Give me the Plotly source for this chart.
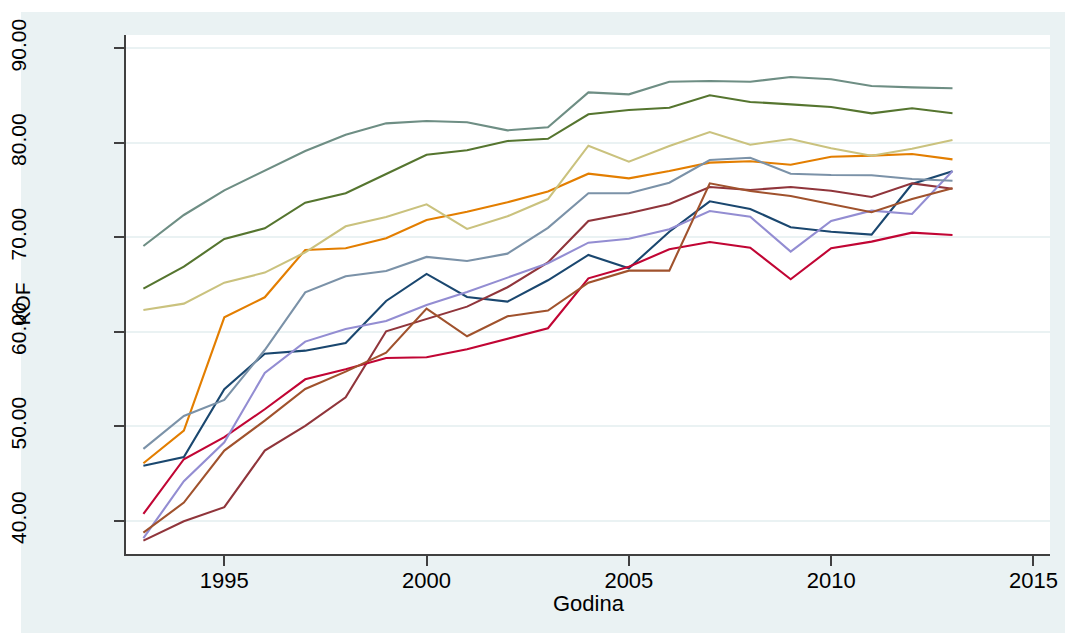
import plotly.graph_objects as go

years = list(range(1993, 2014))

teal = [69.08, 72.36, 74.97, 77.02, 79.13, 80.86, 82.06, 82.31, 82.17, 81.32, 81.64,
        85.34, 85.13, 86.47, 86.54, 86.47, 86.96, 86.72, 86.01, 85.87, 85.77]
forest_green = [64.56, 66.89, 69.82, 70.95, 73.66, 74.66, 76.70, 78.74, 79.21, 80.19, 80.42,
                83.02, 83.47, 83.71, 85.03, 84.32, 84.07, 83.79, 83.12, 83.65, 83.12]
khaki = [62.31, 62.98, 65.20, 66.26, 68.41, 71.16, 72.15, 73.49, 70.88, 72.22, 74.05,
         79.69, 78.00, 79.66, 81.14, 79.80, 80.40, 79.42, 78.64, 79.38, 80.30]
dkorange = [46.08, 49.54, 61.53, 63.65, 68.66, 68.84, 69.89, 71.83, 72.71, 73.70, 74.85,
            76.73, 76.24, 77.02, 77.90, 78.04, 77.68, 78.53, 78.64, 78.81, 78.25]
emidblue = [47.60, 51.09, 52.78, 58.07, 64.18, 65.87, 66.43, 67.92, 67.49, 68.27, 71.00,
            74.66, 74.66, 75.78, 78.18, 78.42, 76.73, 76.59, 76.56, 76.17, 75.99]
navy = [45.83, 46.75, 53.92, 57.68, 58.00, 58.81, 63.26, 66.12, 63.68, 63.19, 65.45,
        68.13, 66.72, 70.59, 73.81, 73.00, 71.06, 70.59, 70.28, 75.64, 76.98]
lavender = [38.15, 44.18, 48.31, 55.64, 58.96, 60.30, 61.14, 62.84, 64.21, 65.76, 67.25,
            69.43, 69.85, 70.85, 72.78, 72.18, 68.48, 71.73, 72.82, 72.47, 77.02]
maroon = [37.90, 39.95, 41.43, 47.42, 50.03, 53.07, 60.05, 61.35, 62.66, 64.71, 67.33,
          71.73, 72.54, 73.52, 75.32, 75.01, 75.32, 74.93, 74.26, 75.71, 75.14]
sienna = [38.74, 41.92, 47.42, 50.59, 53.94, 55.78, 57.79, 62.45, 59.52, 61.64, 62.24,
          65.20, 66.47, 66.47, 75.71, 74.90, 74.37, 73.52, 72.65, 74.05, 75.18]
cranberry = [40.72, 46.51, 48.84, 51.80, 54.97, 56.03, 57.23, 57.30, 58.15, 59.24, 60.37,
             65.66, 66.89, 68.73, 69.50, 68.90, 65.56, 68.84, 69.54, 70.49, 70.24]

series = [
    (navy, "#1a476f"),
    (maroon, "#90353b"),
    (forest_green, "#55752f"),
    (dkorange, "#e37e00"),
    (teal, "#6e8e84"),
    (cranberry, "#c10534"),
    (lavender, "#938dd2"),
    (khaki, "#cac27e"),
    (sienna, "#a0522d"),
    (emidblue, "#7b92a8"),
]

x_ticks = [1995, 2000, 2005, 2010, 2015]
y_ticks = [40, 50, 60, 70, 80, 90]
y_tick_labels = ["40.00", "50.00", "60.00", "70.00", "80.00", "90.00"]

bg = "#EAF2F3"
axis_col = "#404040"
font_family = "Liberation Sans, Arial, sans-serif"

fig = go.Figure()
for vals, col in series:
    fig.add_trace(go.Scatter(x=years, y=vals, mode="lines",
                             line=dict(color=col, width=2.1), showlegend=False,
                             hoverinfo="skip"))

W, H = 1065, 633
L, R, T, B = 126, 15, 35, 79
pw, ph = W - L - R, H - T - B

def px_to_paper_x(px):
    return (px - L) / pw

def px_to_paper_y(py):
    return (H - B - py) / ph

fig.update_layout(
    width=W, height=H,
    margin=dict(l=L, r=R, t=T, b=B, pad=0),
    paper_bgcolor=bg,
    plot_bgcolor="white",
    font=dict(family=font_family, color="#000000"),
    xaxis=dict(
        range=[1992.57, 2015.41],
        tickvals=x_ticks,
        ticks="outside", ticklen=10, tickwidth=1.5, tickcolor=axis_col,
        ticklabelstandoff=-4,
        showline=True, linecolor=axis_col, linewidth=1.5,
        showgrid=False, zeroline=False, automargin=False,
        tickfont=dict(size=22, family=font_family, color="#000"),
    ),
    yaxis=dict(
        range=[36.48, 91.41],
        tickvals=y_ticks, ticktext=y_tick_labels,
        tickangle=-90,
        ticks="outside", ticklen=10, tickwidth=1.5, tickcolor=axis_col,
        ticklabelstandoff=80,
        showline=True, linecolor=axis_col, linewidth=1.5,
        showgrid=True, gridcolor=bg, gridwidth=2,
        zeroline=False, automargin=False,
        tickfont=dict(size=21, family=font_family, color="#000"),
    ),
    shapes=[
        dict(type="rect", xref="paper", yref="paper", layer="below",
             x0=px_to_paper_x(-5), x1=px_to_paper_x(W + 5),
             y0=px_to_paper_y(12), y1=px_to_paper_y(-5),
             fillcolor="white", line=dict(width=0)),
        dict(type="rect", xref="paper", yref="paper", layer="below",
             x0=px_to_paper_x(-5), x1=px_to_paper_x(21),
             y0=px_to_paper_y(H + 5), y1=px_to_paper_y(-5),
             fillcolor="white", line=dict(width=0)),
    ],
    annotations=[
        dict(text="KOF", xref="paper", yref="paper",
             x=px_to_paper_x(22), y=px_to_paper_y(304.5),
             xanchor="center", yanchor="middle", textangle=-90, showarrow=False,
             font=dict(size=21, family=font_family, color="#000")),
        dict(text="Godina", xref="paper", yref="paper",
             x=px_to_paper_x(588.5), y=px_to_paper_y(603),
             xanchor="center", yanchor="middle", showarrow=False,
             font=dict(size=22, family=font_family, color="#000")),
    ],
)

fig.write_html("out.html", config={"displayModeBar": False},
               post_script="document.body.style.margin='0px';")
